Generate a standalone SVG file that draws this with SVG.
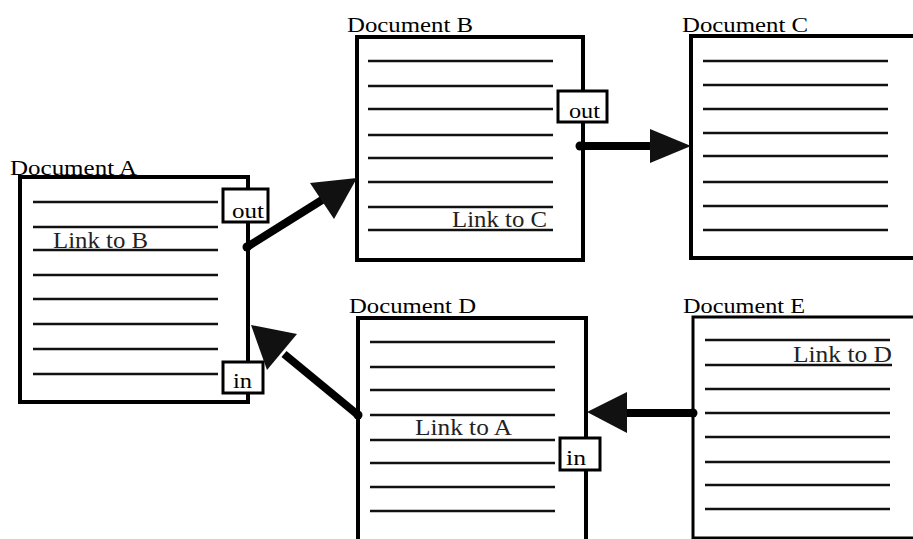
<svg xmlns="http://www.w3.org/2000/svg" width="913" height="539" viewBox="0 0 913 539" font-family="Liberation Serif, serif">
  <style>
    .page { fill: #fff; stroke: #000; stroke-width: 4; }
    .rule { stroke: #111; stroke-width: 2.5; }
    .port { fill: #fff; stroke: #000; stroke-width: 3; }
    .title { font-family: Liberation Serif, serif; font-size: 21px; fill: #000; }
    .link { font-family: Liberation Serif, serif; font-size: 24px; fill: #222; }
    .portlabel { font-family: Liberation Serif, serif; font-size: 22px; fill: #000; }
    .shaft { stroke: #000; stroke-width: 8; fill: none; }
    .head { fill: #111; }
  </style>
  <rect width="913" height="539" fill="#fff"/>

  <!-- Document A -->
  <g id="doc-a">
    <rect class="page" x="20" y="177" width="228" height="225"/>
    <g class="rule">
      <line x1="33" y1="202" x2="218" y2="202"/>
      <line x1="33" y1="227" x2="218" y2="227"/>
      <line x1="33" y1="250" x2="218" y2="250"/>
      <line x1="33" y1="275" x2="218" y2="275"/>
      <line x1="33" y1="299" x2="218" y2="299"/>
      <line x1="33" y1="324" x2="218" y2="324"/>
      <line x1="33" y1="349" x2="218" y2="349"/>
      <line x1="33" y1="374" x2="218" y2="374"/>
    </g>
    <text class="title" x="10" y="175" textLength="127" lengthAdjust="spacingAndGlyphs">Document A</text>
    <text class="link" x="53" y="248" textLength="95" lengthAdjust="spacingAndGlyphs">Link to B</text>
    <g id="doc-a-out">
      <rect class="port" x="223" y="189" width="45" height="33"/>
      <text class="portlabel" x="232" y="218" textLength="32" lengthAdjust="spacingAndGlyphs">out</text>
    </g>
    <g id="doc-a-in">
      <rect class="port" x="223" y="362" width="40" height="31"/>
      <text class="portlabel" x="233" y="388" textLength="19" lengthAdjust="spacingAndGlyphs">in</text>
    </g>
  </g>

  <!-- Document B -->
  <g id="doc-b">
    <rect class="page" x="357" y="37" width="226" height="223"/>
    <g class="rule">
      <line x1="368" y1="61" x2="553" y2="61"/>
      <line x1="368" y1="86" x2="553" y2="86"/>
      <line x1="368" y1="109" x2="553" y2="109"/>
      <line x1="368" y1="135" x2="553" y2="135"/>
      <line x1="368" y1="158" x2="553" y2="158"/>
      <line x1="368" y1="182" x2="553" y2="182"/>
      <line x1="368" y1="207" x2="553" y2="207"/>
      <line x1="368" y1="230" x2="553" y2="230"/>
    </g>
    <text class="title" x="347" y="32" textLength="126" lengthAdjust="spacingAndGlyphs">Document B</text>
    <text class="link" x="452" y="227" textLength="95" lengthAdjust="spacingAndGlyphs">Link to C</text>
    <g id="doc-b-out">
      <rect class="port" x="558" y="91" width="49" height="31"/>
      <text class="portlabel" x="569" y="118" textLength="31" lengthAdjust="spacingAndGlyphs">out</text>
    </g>
  </g>

  <!-- Document C -->
  <g id="doc-c">
    <rect class="page" x="691" y="36" width="230" height="222"/>
    <g class="rule">
      <line x1="703" y1="61" x2="888" y2="61"/>
      <line x1="703" y1="85" x2="888" y2="85"/>
      <line x1="703" y1="109" x2="888" y2="109"/>
      <line x1="703" y1="133" x2="888" y2="133"/>
      <line x1="703" y1="156" x2="888" y2="156"/>
      <line x1="703" y1="182" x2="888" y2="182"/>
      <line x1="703" y1="206" x2="888" y2="206"/>
      <line x1="703" y1="230" x2="888" y2="230"/>
    </g>
    <text class="title" x="682" y="32" textLength="126" lengthAdjust="spacingAndGlyphs">Document C</text>
  </g>

  <!-- Document D -->
  <g id="doc-d">
    <rect class="page" x="358" y="318" width="228" height="230"/>
    <g class="rule">
      <line x1="370" y1="342" x2="555" y2="342"/>
      <line x1="370" y1="367" x2="555" y2="367"/>
      <line x1="370" y1="390" x2="555" y2="390"/>
      <line x1="370" y1="415" x2="555" y2="415"/>
      <line x1="370" y1="440" x2="555" y2="440"/>
      <line x1="370" y1="463" x2="555" y2="463"/>
      <line x1="370" y1="487" x2="555" y2="487"/>
      <line x1="370" y1="511" x2="555" y2="511"/>
    </g>
    <text class="title" x="349" y="313" textLength="127" lengthAdjust="spacingAndGlyphs">Document D</text>
    <text class="link" x="415" y="435" textLength="97" lengthAdjust="spacingAndGlyphs">Link to A</text>
    <g id="doc-d-in">
      <rect class="port" x="560" y="438" width="40" height="32"/>
      <text class="portlabel" x="566" y="465" textLength="20" lengthAdjust="spacingAndGlyphs">in</text>
    </g>
  </g>

  <!-- Document E -->
  <g id="doc-e">
    <rect class="page" x="693" y="317" width="228" height="221" style="stroke-width:3"/>
    <g class="rule">
      <line x1="705" y1="340" x2="890" y2="340"/>
      <line x1="705" y1="365" x2="892" y2="365"/>
      <line x1="705" y1="389" x2="890" y2="389"/>
      <line x1="705" y1="413" x2="890" y2="413"/>
      <line x1="705" y1="437" x2="890" y2="437"/>
      <line x1="705" y1="462" x2="890" y2="462"/>
      <line x1="705" y1="485" x2="890" y2="485"/>
      <line x1="705" y1="509" x2="890" y2="509"/>
    </g>
    <text class="title" x="683" y="313" textLength="122" lengthAdjust="spacingAndGlyphs">Document E</text>
    <text class="link" x="793" y="362" textLength="99" lengthAdjust="spacingAndGlyphs">Link to D</text>
  </g>

  <!-- Links between documents -->
  <g id="connectors">
    <!-- A out -> B -->
    <line class="shaft" x1="247" y1="247" x2="322" y2="200"/>
    <polygon class="head" points="357,178 310,183 334,219"/>
    <circle cx="247" cy="247" r="4.5" fill="#000"/>
    <!-- B out -> C -->
    <line class="shaft" x1="580" y1="146" x2="655" y2="146"/>
    <polygon class="head" points="691,146 650,129 650,163"/>
    <circle cx="580" cy="146" r="4.5" fill="#000"/>
    <!-- D -> A in -->
    <line class="shaft" x1="358" y1="415" x2="284" y2="354"/>
    <polygon class="head" points="251,325 297,334 267,370"/>
    <circle cx="358" cy="415" r="4.5" fill="#000"/>
    <!-- E -> D in -->
    <line class="shaft" x1="693" y1="413" x2="620" y2="413"/>
    <polygon class="head" points="587,412 627,392 627,433"/>
    <circle cx="693" cy="413" r="4.5" fill="#000"/>
  </g>
</svg>
